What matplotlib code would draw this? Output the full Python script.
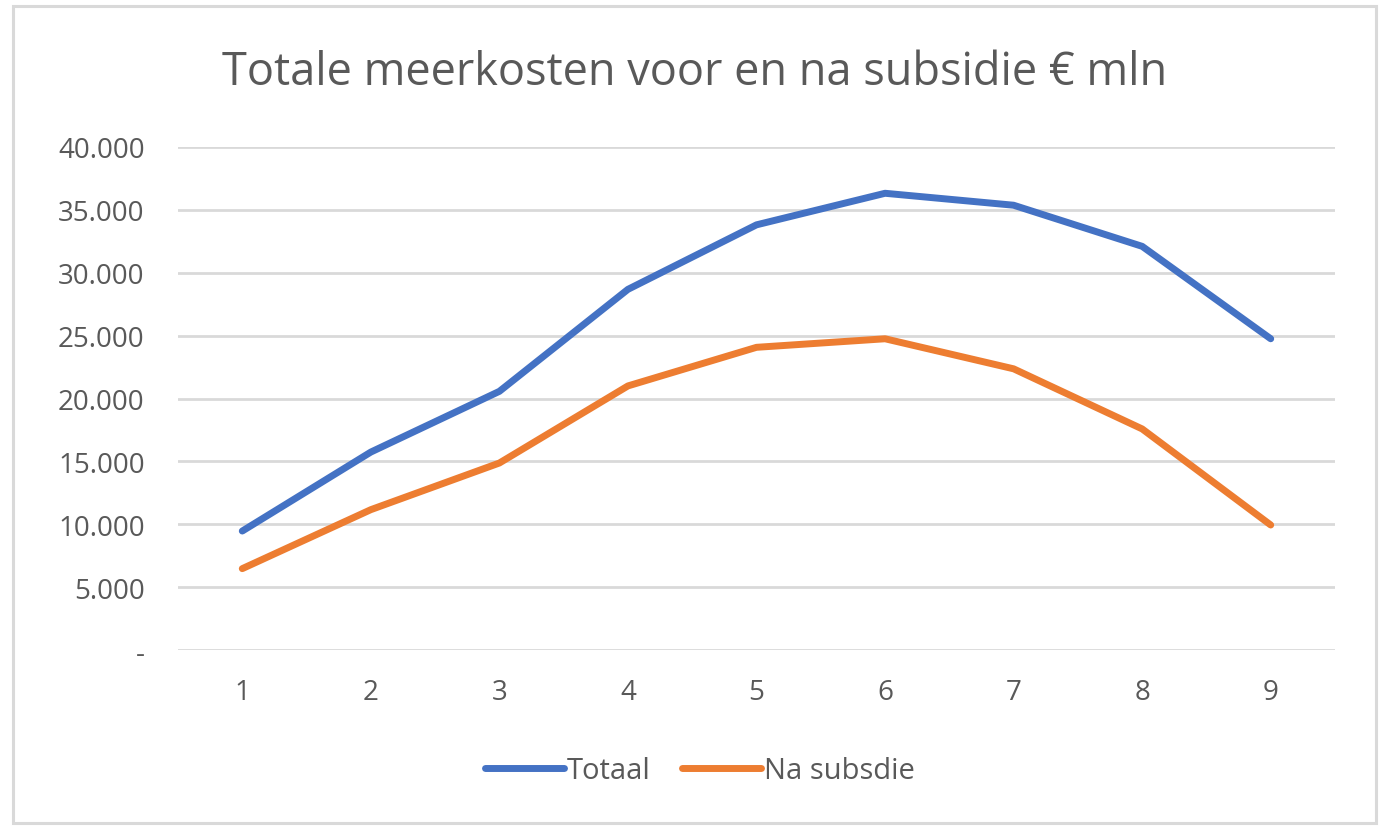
import matplotlib.pyplot as plt
from matplotlib.patches import Rectangle
from matplotlib.ticker import FuncFormatter

# Data
jaren = [1, 2, 3, 4, 5, 6, 7, 8, 9]
totaal = [9460, 15740, 20570, 28680, 33810, 36320, 35370, 32100, 24750]
na_subsidie = [6470, 11160, 14870, 21000, 24070, 24750, 22360, 17580, 9940]
y_ticks = [0, 5000, 10000, 15000, 20000, 25000, 30000, 35000, 40000]

plt.rcParams['font.family'] = ['Open Sans', 'DejaVu Sans']
tekst = '#595959'
grid = '#d9d9d9'

W, H = 1384, 829
fig = plt.figure(figsize=(W / 100, H / 100), dpi=100)
ax = fig.add_axes([178 / W, 1 - 651 / H, (1335 - 178) / W, (651 - 148) / H])

ax.plot(jaren, totaal, color='#4472c4', lw=5, solid_capstyle='round', solid_joinstyle='round', label='Totaal')
ax.plot(jaren, na_subsidie, color='#ed7d31', lw=5, solid_capstyle='round', solid_joinstyle='round', label='Na subsdie')

ax.set_xlim(0.5, 9.5)
ax.set_ylim(0, 40000)
ax.set_xticks(jaren)
ax.set_yticks(y_ticks)

def fmt(v, pos):
    if v == 0:
        return '-'
    return f'{int(v):,}'.replace(',', '.')

ax.yaxis.set_major_formatter(FuncFormatter(fmt))
ax.grid(axis='y', color=grid, lw=2)
ax.set_axisbelow(True)
for s in ax.spines.values():
    s.set_visible(False)
ax.tick_params(length=0, labelsize=20, colors=tekst)
ax.tick_params(axis='y', pad=24)
ax.tick_params(axis='x', pad=20)

fig.text(695 / W, 1 - 73 / H, 'Totale meerkosten voor en na subsidie € mln',
         ha='center', va='center', fontsize=32.5, color=tekst)

fig.legend(loc='center', bbox_to_anchor=(700 / W, 1 - 772 / H), ncol=2, frameon=False,
           fontsize=21, labelcolor=tekst, handlelength=2.7, handletextpad=0.1,
           columnspacing=1.1)

# outer border
fig.patches.append(Rectangle((13 / W, 1 - 824 / H), (1376 - 13) / W, (824 - 7) / H,
                             transform=fig.transFigure, fill=False, ec=grid, lw=2.2))

fig.savefig('out.png', dpi=100)
